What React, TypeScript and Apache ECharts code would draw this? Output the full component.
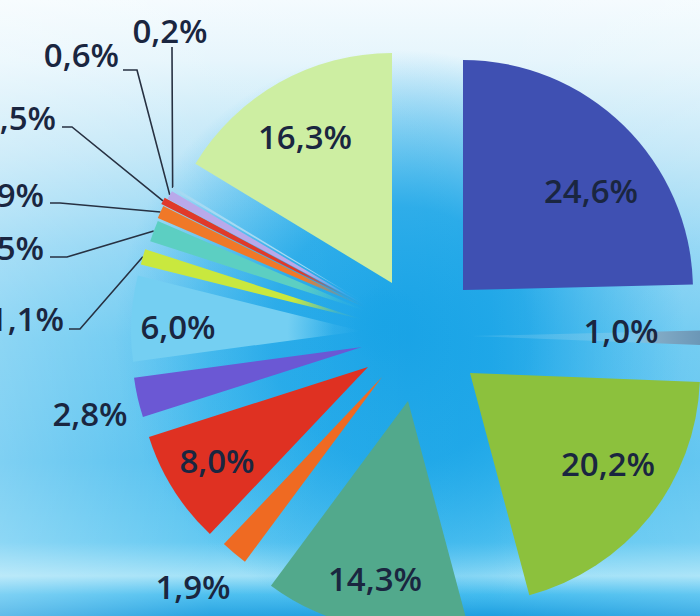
import React, { useEffect, useRef } from 'react';
import * as echarts from 'echarts';

// ---- data ----
const categories = [
  'Segment 1', 'Segment 2', 'Segment 3', 'Segment 4', 'Segment 5',
  'Segment 6', 'Segment 7', 'Segment 8', 'Segment 9', 'Segment 10',
  'Segment 11', 'Segment 12', 'Segment 13', 'Segment 14', 'Segment 15',
];
const shares = [24.6, 1.0, 20.2, 14.3, 1.9, 8.0, 2.8, 6.0, 1.1, 1.5, 0.9, 0.5, 0.6, 0.2, 16.3];

// ---- styles / layout ----
const sliceColors = [
  '#3f50b2', '#6d9aba', '#8cc13d', '#52a98c', '#ef6a22',
  '#df3122', '#6b58d4', '#74cff2', '#c9e83e', '#5ccfc2',
  '#f07828', '#e03a2a', '#b9a9ea', '#a6d9f2', '#cdeea2',
];
// exploded apex of each slice (px)
const sliceCenters: [number, number][] = [
  [463, 290], [472, 336], [470, 373], [408, 401], [382, 377],
  [368, 367], [362, 347], [361, 331], [364, 320], [369, 312],
  [369, 309], [367, 307], [370, 308], [370, 306], [392, 283],
];
const RADIUS = 230;
// label anchor [x, y, align]
const labelAnchors: [number, number, string][] = [
  [591, 190, 'center'], [621, 330, 'center'], [608, 463, 'center'], [375, 578, 'center'], [193, 586, 'center'],
  [217, 460, 'center'], [90, 413, 'center'], [178, 326, 'center'], [64, 318, 'right'], [44, 247, 'right'],
  [44, 194, 'right'], [56, 117, 'right'], [119, 54, 'right'], [170, 30, 'center'], [305, 136, 'center'],
];
// leader line: [bend, end] or null
const leaderBends: ([number, number][] | null)[] = [
  null, null, null, null, null, null, null, null,
  [[80, 329], [69, 329]],
  [[67, 257], [50, 257]],
  [[60, 203], [50, 203]],
  [[72, 127], [62, 127]],
  [[137, 70], [123, 70]],
  [[172, 50], [172, 47]],
  null,
];
const fadeSlices = [7, 8, 9, 10, 11, 12, 13];

function rgba(hex: string, a: number) {
  const n = parseInt(hex.slice(1), 16);
  return `rgba(${(n >> 16) & 255},${(n >> 8) & 255},${n & 255},${a})`;
}
function fmt(v: number) {
  return v.toFixed(1).replace('.', ',') + '%';
}

export default function App() {
  const ref = useRef<HTMLDivElement>(null);
  useEffect(() => {
    document.body.style.margin = '0';
    const chart = echarts.init(ref.current!, null, { renderer: 'svg' });

    const series = shares.map((_, i) => {
      const c = sliceColors[i];
      let fill: any = c;
      if (fadeSlices.includes(i)) {
        fill = {
          type: 'radial', x: sliceCenters[i][0], y: sliceCenters[i][1], r: RADIUS, global: true,
          colorStops: [
            { offset: 0, color: rgba(c, 0) },
            { offset: 0.12, color: rgba(c, 0.15) },
            { offset: 0.32, color: rgba(c, 1) },
            { offset: 1, color: rgba(c, 1) },
          ],
        };
      } else if (i === 1) {
        fill = {
          type: 'linear', x: 0, y: 0, x2: 1, y2: 0,
          colorStops: [
            { offset: 0, color: 'rgba(150,215,240,0.15)' },
            { offset: 0.7, color: 'rgba(150,205,232,0.45)' },
            { offset: 0.8, color: '#82abc6' },
            { offset: 1, color: '#6a96b6' },
          ],
        };
      }
      const anchor = labelAnchors[i];
      const bend = leaderBends[i];
      return {
        type: 'pie',
        name: categories[i],
        center: sliceCenters[i],
        radius: RADIUS,
        startAngle: 90,
        clockwise: true,
        silent: true,
        avoidLabelOverlap: false,
        itemStyle: { borderWidth: 0 },
        label: {
          position: bend ? 'outside' : 'inside',
          formatter: (p: any) => fmt(p.value),
          fontFamily: 'Open Sans',
          fontSize: 33,
          fontWeight: 600,
          color: '#1a2640',
          width: 110,
          overflow: 'none',
        },
        labelLine: { lineStyle: { color: '#273142', width: 1.6 } },
        data: shares.map((v, j) => ({
          name: categories[j],
          value: v,
          itemStyle: { color: j === i ? fill : 'rgba(0,0,0,0)' },
          label: { show: j === i },
          labelLine: { show: j === i && !!bend },
        })),
        labelLayout: (p: any) => {
          if (p.dataIndex !== i) return {};
          const out: any = {
            x: anchor[0], y: anchor[1], align: anchor[2], verticalAlign: 'middle',
          };
          if (bend && p.labelLinePoints) {
            const start = p.labelLinePoints[0];
            out.labelLinePoints = [[start[0], start[1]], bend[0], bend[1]];
          }
          return out;
        },
      };
    });

    chart.setOption({
      animation: false,
      graphic: [
        {
          type: 'rect', z: 0, silent: true,
          shape: { x: 0, y: 0, width: 700, height: 616 },
          style: {
            fill: {
              type: 'linear', x: 0, y: 0, x2: 0, y2: 1,
              colorStops: [
                { offset: 0, color: '#f4fbfe' },
                { offset: 0.1, color: '#e5f5fc' },
                { offset: 0.25, color: '#bce5f7' },
                { offset: 0.4, color: '#84d1f3' },
                { offset: 0.55, color: '#5cc4f0' },
                { offset: 0.75, color: '#48bcee' },
                { offset: 0.88, color: '#5cc6f1' },
                { offset: 0.935, color: '#9ee0f7' },
                { offset: 0.965, color: '#46bdef' },
                { offset: 1, color: '#1e9fe0' },
              ],
            },
          },
        },
        {
          type: 'rect', z: 0, silent: true,
          shape: { x: 0, y: 0, width: 700, height: 616 },
          style: {
            fill: {
              type: 'radial', x: 400, y: 335, r: 285, global: true,
              colorStops: [
                { offset: 0, color: 'rgba(22,162,230,1)' },
                { offset: 0.45, color: 'rgba(24,164,231,0.85)' },
                { offset: 0.75, color: 'rgba(28,168,233,0.4)' },
                { offset: 1, color: 'rgba(30,170,234,0)' },
              ],
            },
          },
        },
        {
          type: 'rect', z: 0, silent: true,
          shape: { x: 0, y: 0, width: 700, height: 616 },
          style: {
            fill: {
              type: 'linear', x: 0, y: 0, x2: 1, y2: 0,
              colorStops: [
                { offset: 0, color: 'rgba(255,255,255,0.3)' },
                { offset: 0.3, color: 'rgba(255,255,255,0.05)' },
                { offset: 0.7, color: 'rgba(255,255,255,0)' },
                { offset: 1, color: 'rgba(255,255,255,0.15)' },
              ],
            },
          },
        },
        {
          type: 'circle', z: 10, silent: true,
          shape: { cx: 385, cy: 325, r: 40 },
          style: {
            fill: {
              type: 'radial', x: 0.5, y: 0.5, r: 0.5,
              colorStops: [
                { offset: 0, color: 'rgba(26,164,230,0.9)' },
                { offset: 0.6, color: 'rgba(26,164,230,0.5)' },
                { offset: 1, color: 'rgba(26,164,230,0)' },
              ],
            },
          },
        },
      ],
      series,
    });
    return () => chart.dispose();
  }, []);
  return <div ref={ref} style={{ width: 700, height: 616 }} />;
}
